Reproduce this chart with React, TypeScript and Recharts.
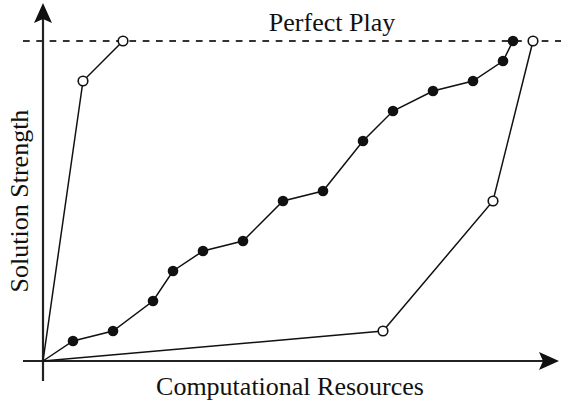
import React from "react";
import { LineChart, Line, XAxis, YAxis, ReferenceLine } from "recharts";

// Data (x in resource units, y in strength units)
const fastX = [0, 4, 8];
const fastY = [0, 28, 32];
const steadyX = [0, 3, 7, 11, 13, 16, 20, 24, 28, 32, 35, 39, 43, 46, 47];
const steadyY = [0, 2, 3, 6, 9, 11, 12, 16, 17, 22, 25, 27, 28, 30, 32];
const slowX = [0, 34, 45, 49];
const slowY = [0, 3, 16, 32];
const perfectPlay = 32;

const toRows = (xs: number[], ys: number[]) => xs.map((x, i) => ({ x, y: ys[i] }));
const fastData = toRows(fastX, fastY);
const steadyData = toRows(steadyX, steadyY);
const slowData = toRows(slowX, slowY);

const W = 561;
const H = 402;
const X_DOMAIN: [number, number] = [-4.3, 51.8];
const Y_DOMAIN: [number, number] = [-4.1, 36.1];
const FONT = '"Liberation Serif", "Times New Roman", serif';

const ArrowShape = (props: any) => {
  const { x1, y1, x2, y2 } = props;
  if ([x1, y1, x2, y2].some((v) => typeof v !== "number" || isNaN(v))) return null;
  const dx = x2 - x1;
  const dy = y2 - y1;
  const len = Math.sqrt(dx * dx + dy * dy) || 1;
  const ux = dx / len;
  const uy = dy / len;
  const px = -uy;
  const py = ux;
  const L = 20;
  const hw = 9;
  const notch = 4;
  const bx = x2 - ux * L;
  const by = y2 - uy * L;
  const nx = x2 - ux * (L - notch);
  const ny = y2 - uy * (L - notch);
  const pts = `${x2},${y2} ${bx + px * hw},${by + py * hw} ${nx},${ny} ${bx - px * hw},${by - py * hw}`;
  return (
    <g>
      <line x1={x1} y1={y1} x2={nx} y2={ny} stroke="#222" strokeWidth={2.2} />
      <polygon points={pts} fill="#111" stroke="none" />
    </g>
  );
};

const filledDot = (props: any) => {
  const { cx, cy, index } = props;
  if (index === 0) return <g key={`f-${index}`} />;
  return <circle key={`f-${index}`} cx={cx} cy={cy} r={5.3} fill="#111" stroke="none" />;
};

const openDot = (props: any) => {
  const { cx, cy, index } = props;
  if (index === 0) return <g key={`o-${index}`} />;
  return (
    <circle key={`o-${index}`} cx={cx} cy={cy} r={4.8} fill="#fff" stroke="#111" strokeWidth={1.6} />
  );
};

export default function App() {
  return (
    <div style={{ position: "absolute", left: 0, top: 0, width: W, height: H, background: "#fff" }}>
      <LineChart width={W} height={H} margin={{ top: 0, right: 0, bottom: 0, left: 0 }}>
        <XAxis type="number" dataKey="x" domain={X_DOMAIN} hide allowDataOverflow />
        <YAxis type="number" dataKey="y" domain={Y_DOMAIN} hide allowDataOverflow />
        <ReferenceLine
          segment={[{ x: -2, y: perfectPlay }, { x: 51.8, y: perfectPlay }]}
          stroke="#333"
          strokeWidth={2}
          strokeDasharray="6.7 6.6"
          ifOverflow="visible"
        />
        <ReferenceLine
          segment={[{ x: -2, y: 0 }, { x: 51.6, y: 0 }]}
          shape={ArrowShape}
          ifOverflow="visible"
        />
        <ReferenceLine
          segment={[{ x: 0, y: -2 }, { x: 0, y: 35.8 }]}
          shape={ArrowShape}
          ifOverflow="visible"
        />
        <Line
          data={slowData}
          dataKey="y"
          type="linear"
          stroke="#111"
          strokeWidth={1.5}
          dot={openDot}
          activeDot={false}
          isAnimationActive={false}
        />
        <Line
          data={fastData}
          dataKey="y"
          type="linear"
          stroke="#111"
          strokeWidth={1.5}
          dot={openDot}
          activeDot={false}
          isAnimationActive={false}
        />
        <Line
          data={steadyData}
          dataKey="y"
          type="linear"
          stroke="#111"
          strokeWidth={1.5}
          dot={filledDot}
          activeDot={false}
          isAnimationActive={false}
        />
      </LineChart>
      <svg
        width={W}
        height={H}
        style={{ position: "absolute", left: 0, top: 0, pointerEvents: "none" }}
      >
        <text x={332} y={31} textAnchor="middle" fontFamily={FONT} fontSize={26} fill="#111">
          Perfect Play
        </text>
        <text x={290} y={395} textAnchor="middle" fontFamily={FONT} fontSize={26} fill="#111">
          Computational Resources
        </text>
        <text
          x={28}
          y={201}
          textAnchor="middle"
          fontFamily={FONT}
          fontSize={26}
          fill="#111"
          transform="rotate(-90, 28, 201)"
        >
          Solution Strength
        </text>
      </svg>
    </div>
  );
}
